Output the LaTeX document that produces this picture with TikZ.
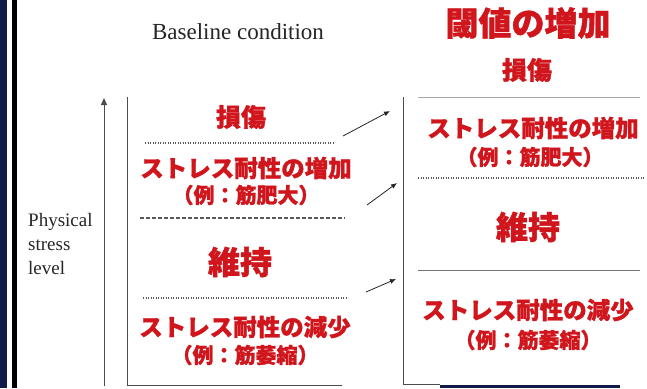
\documentclass[tikz,border=0pt]{standalone}
\usepackage{fontspec}
\setmainfont{Liberation Serif}
\newfontfamily\jp[BoldFeatures={FakeBold=1.2}]{Noto Sans CJK JP}
\usetikzlibrary{arrows.meta}
\definecolor{jred}{RGB}{208,22,28}
\definecolor{navy}{RGB}{16,26,72}
\tikzset{
  jtext/.style={text=jred, inner sep=0pt, font=\jp\bfseries\fontsize{#1}{#1}\selectfont},
  etext/.style={text=black!85, inner sep=0pt, font=\fontsize{#1}{#1}\selectfont},
  boxline/.style={draw=black!70, line width=1pt},
  dotline/.style={draw=black!65, line width=1.3pt, dash pattern=on 1.3pt off 1.2pt},
  dashline/.style={draw=black!65, line width=1.2pt, dash pattern=on 4pt off 2pt},
  faintline/.style={draw=black!35, line width=0.8pt},
  shiftarrow/.style={draw=black!85, line width=0.8pt, -{Latex[length=6pt,width=5pt]}},
  axisarrow/.style={draw=black!70, line width=1pt, -{Triangle[length=7pt,width=6pt]}}
}
\begin{document}
\begin{tikzpicture}[x=1pt,y=-1pt]
\useasboundingbox (0,0) rectangle (647,388);
\fill[white] (0,0) rectangle (647,388);
% slide frame
\fill[navy] (0,0) rectangle (6.5,388);
\fill[black] (12,0) rectangle (16.5,388);
\fill[navy] (440,385) rectangle (620,388);

% titles
\node[etext=23] (base) at (238,32) {Baseline condition};
\node[jtext=33] (thr) at (528,23) {閾値の増加};

% axis
\coordinate (ax0) at (104,386);
\coordinate (ax1) at (104,98);
\draw[axisarrow] (ax0) -- (ax1);
\node[etext=19, anchor=west] (phys) at (28,222) {Physical};
\node[etext=19, anchor=west] (stress) at (28,245) {stress};
\node[etext=19, anchor=west] (level) at (28,268) {level};

% left box
\coordinate (lt) at (127,97);
\coordinate (lb) at (127,385);
\coordinate (lr) at (342,385);
\draw[boxline] (lt) -- (lb) -- (lr);
\node[jtext=25] (l1) at (241,117) {損傷};
\coordinate (la1) at (145,143); \coordinate (la2) at (334,143);
\draw[dotline] (la1) -- (la2);
\node[jtext=23.5] (l2) at (246,168) {ストレス耐性の増加};
\node[jtext=21] (l3) at (246,195) {（例：筋肥大）};
\coordinate (lb1) at (140,218); \coordinate (lb2) at (345,218);
\draw[dashline] (lb1) -- (lb2);
\node[jtext=32] (l4) at (240,262) {維持};
\coordinate (lc1) at (143,298); \coordinate (lc2) at (348,298);
\draw[dotline] (lc1) -- (lc2);
\node[jtext=23.5] (l5) at (245,327) {ストレス耐性の減少};
\node[jtext=21] (l6) at (245,355) {（例：筋萎縮）};

% shift arrows
\coordinate (a1s) at (343,136); \coordinate (a1e) at (390,111);
\coordinate (a2s) at (367,205); \coordinate (a2e) at (397,183);
\coordinate (a3s) at (366,292); \coordinate (a3e) at (396,279);
\draw[shiftarrow] (a1s) -- (a1e);
\draw[shiftarrow] (a2s) -- (a2e);
\draw[shiftarrow] (a3s) -- (a3e);

% right box
\coordinate (rt) at (403,97);
\coordinate (rb) at (403,384);
\coordinate (rr) at (440,384);
\draw[boxline] (rt) -- (rb) -- (rr);
\node[jtext=25] (r1) at (527,70) {損傷};
\coordinate (ra1) at (418,97); \coordinate (ra2) at (640,97);
\draw[faintline] (ra1) -- (ra2);
\node[jtext=23.5] (r2) at (533,128) {ストレス耐性の増加};
\node[jtext=21] (r3) at (530,157) {（例：筋肥大）};
\coordinate (rb1) at (418,178); \coordinate (rb2) at (645,178);
\draw[dotline] (rb1) -- (rb2);
\node[jtext=32] (r4) at (528,227) {維持};
\coordinate (rc1) at (418,270); \coordinate (rc2) at (640,270);
\draw[faintline, draw=black!55, line width=1pt] (rc1) -- (rc2);
\node[jtext=23.5] (r5) at (528,310) {ストレス耐性の減少};
\node[jtext=21] (r6) at (528,340) {（例：筋萎縮）};
\end{tikzpicture}
\end{document}
